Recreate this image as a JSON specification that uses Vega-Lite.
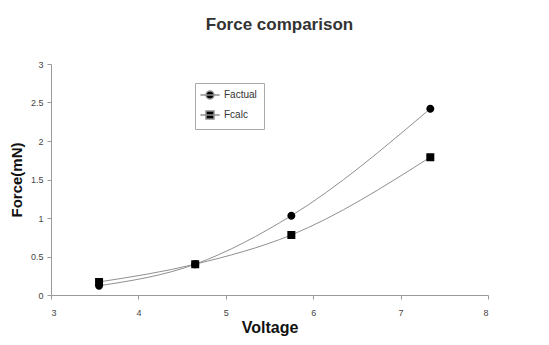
{
  "$schema": "https://vega.github.io/schema/vega-lite/v6.json",
  "width": 437,
  "height": 231,
  "autosize": {"type": "none"},
  "padding": {"left": 51, "top": 64, "right": 61, "bottom": 50},
  "background": "white",
  "config": {
    "font": "Liberation Sans",
    "view": {"stroke": null},
    "legend": {
      "orient": "none",
      "legendX": 144,
      "legendY": 19,
      "strokeColor": "#aaa",
      "fillColor": "white",
      "padding": 7,
      "symbolOffset": 3,
      "symbolSize": 64,
      "labelOffset": 9,
      "labelFontSize": 10,
      "labelColor": "#333",
      "rowPadding": 6
    }
  },
  "title": {
    "text": "Force comparison",
    "fontSize": 17,
    "fontWeight": "bold",
    "color": "#333",
    "offset": 26,
    "dx": 10
  },
  "data": {
    "values": [
      {"series": "Factual", "voltage": 3.55, "force": 0.12},
      {"series": "Factual", "voltage": 4.65, "force": 0.40},
      {"series": "Factual", "voltage": 5.75, "force": 1.03},
      {"series": "Factual", "voltage": 7.34, "force": 2.42},
      {"series": "Fcalc", "voltage": 3.55, "force": 0.17},
      {"series": "Fcalc", "voltage": 4.65, "force": 0.40},
      {"series": "Fcalc", "voltage": 5.75, "force": 0.78},
      {"series": "Fcalc", "voltage": 7.34, "force": 1.79}
    ]
  },
  "encoding": {
    "x": {
      "field": "voltage",
      "type": "quantitative",
      "scale": {"domain": [3, 8], "nice": false},
      "axis": {
        "title": "Voltage",
        "values": [3, 4, 5, 6, 7, 8],
        "format": "~g",
        "grid": false,
        "tickSize": 4,
        "tickColor": "#999",
        "domainColor": "#999",
        "labelFontSize": 9,
        "labelColor": "#444",
        "labelPadding": 9,
        "titleFontSize": 16,
        "titleFontWeight": "bold",
        "titleColor": "#111",
        "titlePadding": 2
      }
    },
    "y": {
      "field": "force",
      "type": "quantitative",
      "scale": {"domain": [0, 3], "nice": false},
      "axis": {
        "title": "Force(mN)",
        "values": [0, 0.5, 1, 1.5, 2, 2.5, 3],
        "format": "~g",
        "grid": false,
        "tickSize": 4,
        "tickColor": "#999",
        "domainColor": "#999",
        "labelFontSize": 9,
        "labelColor": "#444",
        "labelPadding": 4,
        "titleFontSize": 15,
        "titleFontWeight": "bold",
        "titleColor": "#111",
        "titlePadding": 6
      }
    }
  },
  "layer": [
    {
      "mark": {"type": "line", "interpolate": "monotone", "strokeWidth": 1},
      "encoding": {
        "color": {
          "field": "series",
          "type": "nominal",
          "title": null,
          "scale": {"domain": ["Factual", "Fcalc"], "range": ["#909090", "#909090"]}
        }
      }
    },
    {
      "mark": {"type": "point", "filled": true, "opacity": 1, "fill": "black", "size": 64},
      "encoding": {
        "shape": {
          "field": "series",
          "type": "nominal",
          "title": null,
          "scale": {
            "domain": ["Factual", "Fcalc"],
            "range": [
              "M-2.4,0L2.4,0M-1,0A1,1,0,1,0,1,0A1,1,0,1,0,-1,0Z",
              "M-2.4,0L2.4,0M-1,-1L1,-1L1,1L-1,1Z"
            ]
          }
        }
      }
    }
  ]
}
